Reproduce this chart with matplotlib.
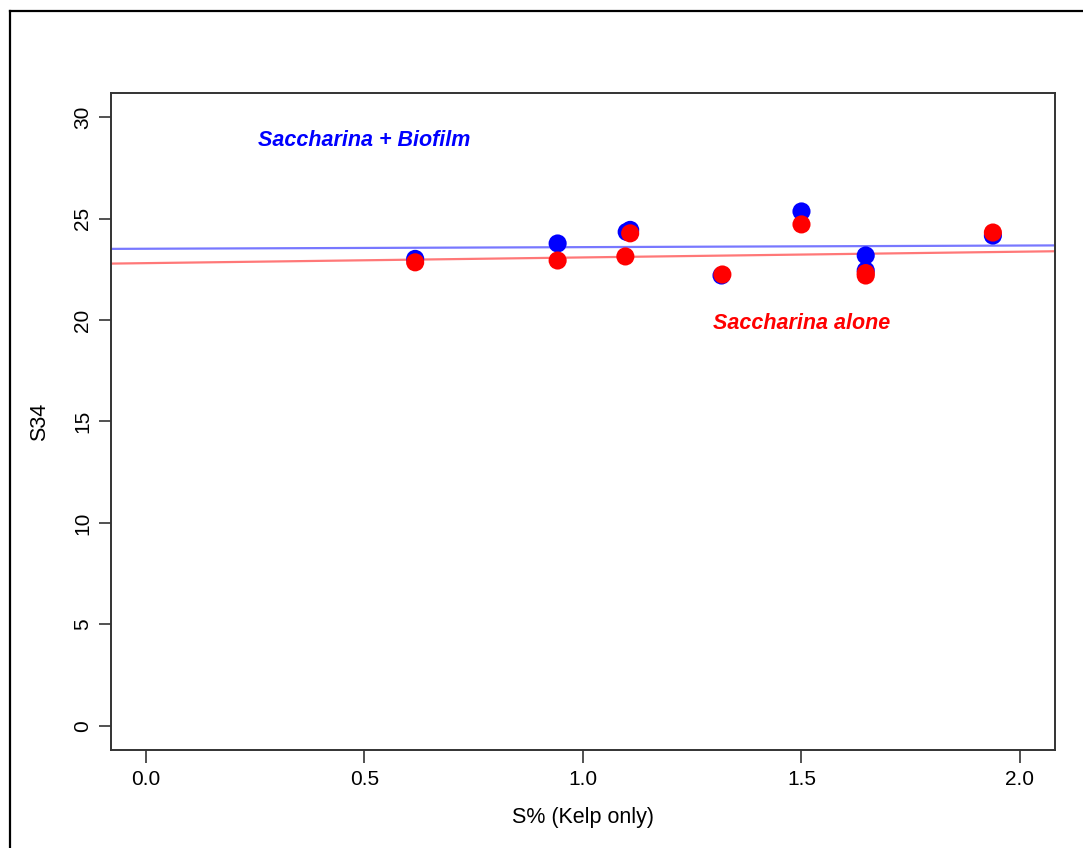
import numpy as np
import matplotlib
matplotlib.use('Agg')
from matplotlib import pyplot as plt
from matplotlib.lines import Line2D

plt.rcParams['font.family'] = ['Liberation Sans', 'DejaVu Sans']

# S% (kelp only) vs S34, two treatments
biofilm_x = [0.616, 0.942, 1.100, 1.108, 1.317, 1.500, 1.647, 1.647, 1.938]
biofilm_y = [23.02, 23.78, 24.35, 24.45, 22.20, 25.36, 23.19, 22.45, 24.17]
alone_x = [0.616, 0.942, 1.097, 1.108, 1.319, 1.500, 1.647, 1.647, 1.938]
alone_y = [22.85, 22.94, 23.14, 24.28, 22.25, 24.72, 22.20, 22.32, 24.32]

# fitted lines (intercept, slope)
biofilm_fit = (23.52, 0.079)
alone_fit = (22.81, 0.282)

x_ticks = [0.0, 0.5, 1.0, 1.5, 2.0]
y_ticks = [0, 5, 10, 15, 20, 25, 30]

fig = plt.figure(figsize=(10.83, 8.48), dpi=100)
ax = fig.add_axes([0.1025, 0.1156, 0.8716, 0.7747])

ax.set_xlim(-0.08, 2.08)
ax.set_ylim(-1.2, 31.2)

xs = np.array(ax.get_xlim())
ax.plot(xs, biofilm_fit[0] + biofilm_fit[1] * xs, color='#7878ff', lw=1.6, zorder=2)
ax.plot(xs, alone_fit[0] + alone_fit[1] * xs, color='#ff7878', lw=1.6, zorder=2)

ax.scatter(biofilm_x, biofilm_y, s=170, color='#0000ff', edgecolors='none', zorder=3)
ax.scatter(alone_x, alone_y, s=170, color='#ff0000', edgecolors='none', zorder=4)

ax.text(0.5, 28.85, 'Saccharina + Biofilm', color='#0000ff', fontsize=15.5,
        fontweight='bold', fontstyle='italic', ha='center', va='center')
ax.text(1.5, 19.85, 'Saccharina alone', color='#ff0000', fontsize=15.5,
        fontweight='bold', fontstyle='italic', ha='center', va='center')

ax.set_xticks(x_ticks)
ax.set_xticklabels(['%.1f' % v for v in x_ticks])
ax.set_yticks(y_ticks)
ax.set_yticklabels([str(v) for v in y_ticks], rotation=90, va='center')
ax.tick_params(length=9, width=1.2, color='#333333', labelsize=15)
ax.tick_params(axis='x', pad=5.5)
ax.tick_params(axis='y', pad=4.5)
for sp in ax.spines.values():
    sp.set_color('#333333')
    sp.set_linewidth(1.4)

ax.set_xlabel('S% (Kelp only)', fontsize=15.5, labelpad=13)
ax.set_ylabel('S34', fontsize=15.5, labelpad=17)

# outer frame of the figure panel
fig.add_artist(Line2D([10 / 1083, 10 / 1083], [0, 1 - 11 / 848], color='black', lw=1.6))
fig.add_artist(Line2D([10 / 1083, 1], [1 - 11 / 848, 1 - 11 / 848], color='black', lw=1.6))

fig.savefig('out.png', dpi=100)
